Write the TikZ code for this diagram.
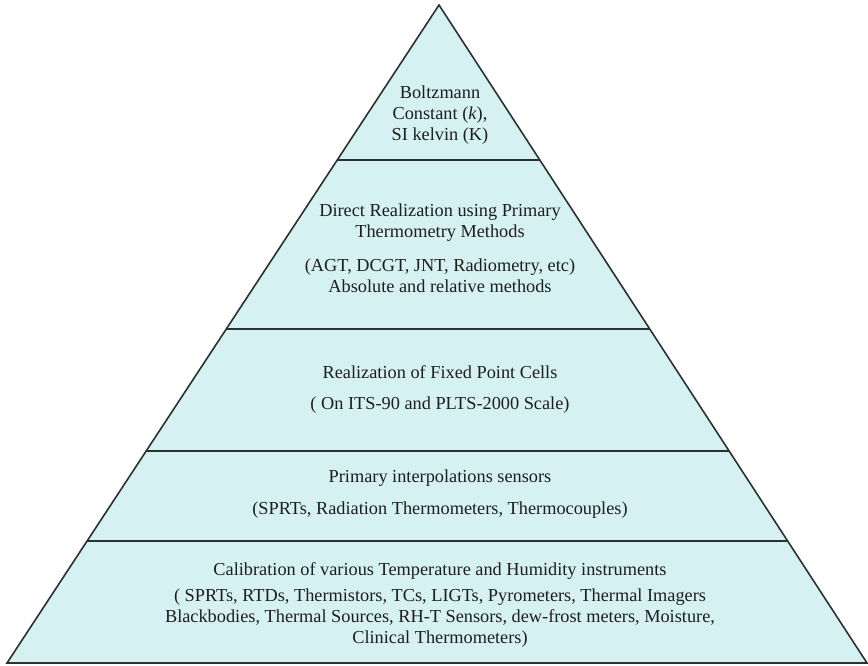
\documentclass[tikz,border=0pt]{standalone}
\usepackage{fontspec}
\setmainfont{Liberation Serif}
\usetikzlibrary{calc}
\definecolor{pyrfill}{RGB}{214,241,241}
\definecolor{pyrline}{RGB}{40,50,50}
\definecolor{pyrtext}{RGB}{30,30,30}
\begin{document}
\begin{tikzpicture}[x=1pt,y=-1pt,
  txt/.style={inner sep=0pt, align=center, font=\fontsize{18.3}{20.8}\selectfont, text=pyrtext},
  tier/.style={draw=pyrline, line width=1.8pt}]
\useasboundingbox (0,0) rectangle (868,666);
\coordinate (A) at (439,5);
\coordinate (L) at (7,663);
\coordinate (R) at (867,663);
\fill[pyrfill] (A)--(L)--(R)--cycle;
\foreach \t [count=\i] in {0.2356,0.4924,0.6778,0.8146}{
  \coordinate (l\i) at ($(A)!\t!(L)$);
  \coordinate (r\i) at ($(A)!\t!(R)$);
  \draw[tier] (l\i) -- (r\i);
}
\draw[pyrline, line width=1.6pt, line join=miter] (A)--(L)--(R)--cycle;

\node[txt] (t1) at (440,115) {Boltzmann\\Constant (\textit{k}),\\SI kelvin (K)};
\node[txt] (t2a) at (440,223) {Direct Realization using Primary\\Thermometry Methods};
\node[txt] (t2b) at (440,276) {(AGT, DCGT, JNT, Radiometry, etc)\\Absolute and relative methods};
\node[txt] (t3a) at (440,372) {Realization of Fixed Point Cells};
\node[txt] (t3b) at (440,405) {( On ITS-90 and PLTS-2000 Scale)};
\node[txt] (t4a) at (440,478) {Primary interpolations sensors};
\node[txt] (t4b) at (440,510) {(SPRTs, Radiation Thermometers, Thermocouples)};
\node[txt] (t5a) at (440,571) {Calibration of various Temperature and Humidity instruments};
\node[txt] (t5b) at (440,618) {( SPRTs, RTDs, Thermistors, TCs, LIGTs, Pyrometers, Thermal Imagers\\Blackbodies, Thermal Sources, RH-T Sensors, dew-frost meters, Moisture,\\Clinical Thermometers)};
\end{tikzpicture}
\end{document}
